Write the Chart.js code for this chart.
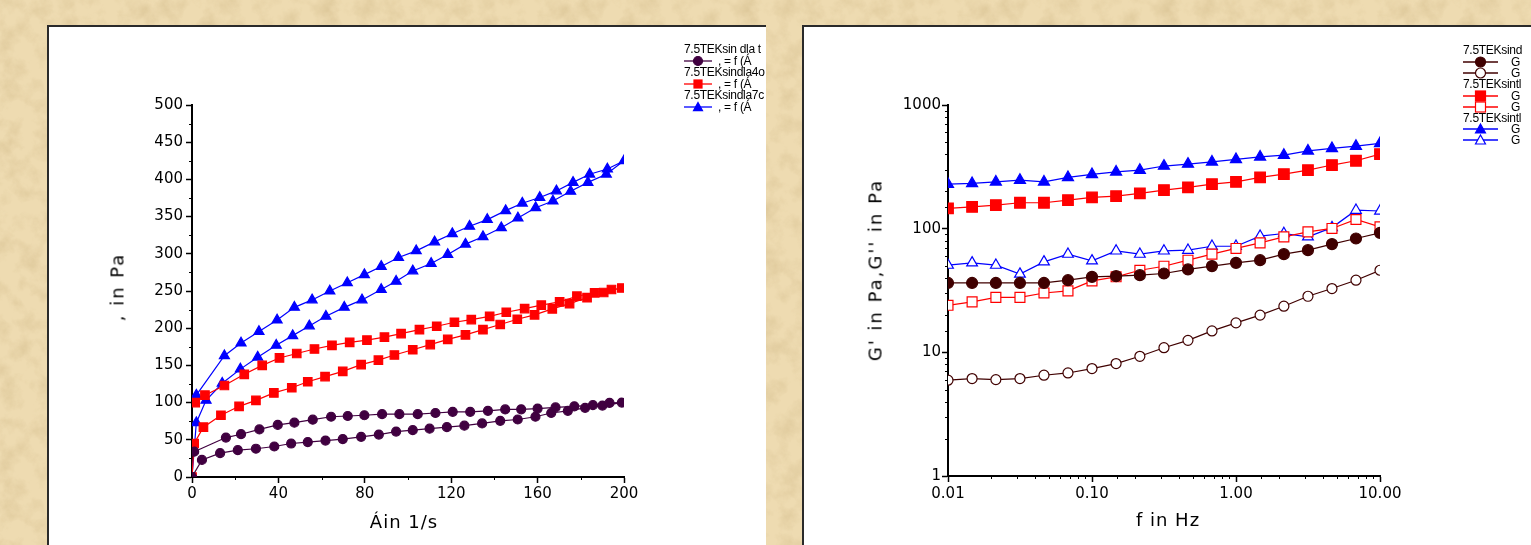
<!DOCTYPE html>
<html><head><meta charset="utf-8">
<script src="https://cdn.jsdelivr.net/npm/chart.js@4.4.0/dist/chart.umd.min.js"></script>
<style>
html,body{margin:0;padding:0;}
body{width:1531px;height:545px;overflow:hidden;position:relative;background-color:#eedbb1;font-family:'DejaVu Sans',sans-serif;}
.panel{position:absolute;background:#fff;box-sizing:border-box;border-top:2px solid #2a2a2a;border-left:2px solid #2a2a2a;overflow:hidden;}
#p1{left:47px;top:25px;width:719px;height:520px;}
#p2{left:802px;top:25px;width:729px;height:520px;}
.panel canvas{position:absolute;left:0;top:0;}
.t{position:absolute;white-space:nowrap;color:#000;}
.ytitle{font-size:18px;letter-spacing:2px;transform:translate(-50%,-50%) rotate(-90deg);}
.xtitle{font-size:18px;letter-spacing:1px;transform:translate(-50%,-50%);}
.leg{font-family:'Liberation Sans',Arial,sans-serif;font-size:12px;line-height:12px;letter-spacing:-0.3px;}
</style>
</head><body>
<div class="panel" id="p1"><canvas id="c1" width="717" height="518"></canvas></div>
<div class="panel" id="p2"><canvas id="c2" width="727" height="518"></canvas></div>
<script>
// ---------- Left chart: flow curves (shear stress vs shear rate) ----------
const leftXLabels = [0, 40, 80, 120, 160, 200];
const leftYLabels = [0, 50, 100, 150, 200, 250, 300, 350, 400, 450, 500];
const leftXTitle = 'Áin 1/s';
const leftYTitle = ', in Pa';
const leftLegendHeads = ['7.5TEKsin dla t', '7.5TEKsindla4o', '7.5TEKsindla7c'];
const leftLegendLabel = ',  = f (Á';

const purpleUpX = [0, 4.6, 13, 21.2, 29.6, 38.1, 45.9, 53.6, 61.8, 69.8, 78.3, 86.5, 94.5, 102.2, 110, 118, 126.1, 134.3, 142.7, 150.8, 159, 166.3, 174, 182, 190, 199];
const purpleUpY = [0, 23, 32, 36, 38, 41, 45, 47, 49, 51, 54, 57, 61, 63, 65, 67, 69, 72, 75.5, 77.3, 81, 86, 89, 93, 96, 100];
const purpleDownX = [193.3, 185.6, 177, 168.3, 160, 152.4, 145, 137, 128.8, 120.7, 112.7, 104.5, 96, 88, 79.8, 72.1, 64.4, 55.9, 47.4, 39.7, 31.2, 22.7, 15.7, 1];
const purpleDownY = [99.5, 96.6, 95, 93.5, 92, 91, 90.8, 89, 87.6, 87.6, 86, 84.5, 84.5, 84.5, 83, 82, 81, 77, 73, 70, 64, 57.5, 53, 34];

const redUpX = [0, 1, 5.3, 13.4, 21.8, 29.6, 37.9, 46.2, 53.6, 61.6, 69.8, 78.3, 86.3, 93.7, 102.2, 110.3, 118.4, 126.6, 134.7, 142.7, 150.6, 158.6, 166.8, 174.8, 182.9, 190.6, 199];
const redUpY = [0, 45, 67, 83, 95, 103, 113, 120, 128, 135, 142, 151, 157, 164, 171, 178, 185, 191, 198, 205, 212, 218, 226, 233, 241, 248, 254];
const redDownX = [194.2, 186.4, 178.2, 170.2, 161.7, 154, 145.5, 137.8, 129.3, 121.5, 113.3, 105.3, 96.8, 89.1, 81, 73, 64.8, 56.7, 48.5, 40.5, 32.5, 24.2, 15, 6, 1.5];
const redDownY = [252, 247.6, 243, 235.4, 231, 226.4, 221.4, 216, 211.6, 208, 202.6, 198, 192.7, 188, 184, 181, 177, 172, 166, 160, 150, 138, 123, 110, 100];

const blueUpX = [0, 2, 6.5, 14, 22.4, 30.4, 39, 46.6, 54.3, 62, 70.5, 78.7, 87.6, 94.5, 102.2, 110.7, 118.4, 126.6, 134.7, 143.2, 150.9, 159.1, 167.1, 175.3, 183.3, 191.8, 200];
const blueUpY = [0, 73, 103, 126, 145, 161, 177, 190, 203, 216, 228, 238, 252, 263, 277, 287, 299, 313, 323, 335, 348, 362, 371, 384, 396, 407, 425];
const blueDownX = [192.3, 184.1, 176.4, 168.7, 161, 152.9, 145.2, 136.7, 128.5, 120.5, 112.3, 103.8, 95.6, 87.6, 79.8, 71.9, 63.8, 55.6, 47.4, 39.4, 31, 22.7, 15, 2];
const blueDownY = [414, 407, 396, 384.5, 375.6, 368, 358, 346, 337, 327, 316, 304, 295, 283, 272, 261, 250, 238, 228, 211, 195.5, 180, 163, 110];

// ---------- Right chart: frequency sweep (G', G'') ----------
const rightXTickValues = [0.01, 0.1, 1, 10];
const rightXTickLabels = ['0.01', '0.10', '1.00', '10.00'];
const rightYTickValues = [1, 10, 100, 1000];
const rightYTickLabels = ['1', '10', '100', '1000'];
const rightXTitle = 'f in Hz';
const rightYTitle = "G' in Pa,G'' in Pa";
const rightLegendHeads = ['7.5TEKsind', '7.5TEKsintl', '7.5TEKsintl'];
const rightLegendLabels = ['G', 'G'];

const freq = [0.01, 0.0147, 0.0215, 0.0316, 0.0464, 0.0681, 0.1, 0.147, 0.215, 0.316, 0.464, 0.681, 1, 1.47, 2.15, 3.16, 4.64, 6.81, 10];
const brownGp  = [36.4, 36.4, 36.4, 36.4, 36.4, 38.3, 40.8, 41.3, 42.1, 43.4, 46.8, 49.8, 52.9, 55.6, 62.2, 67, 75, 83.3, 92.5];
const brownGpp = [5.95, 6.14, 6.02, 6.14, 6.53, 6.81, 7.39, 8.11, 9.29, 10.9, 12.5, 14.9, 17.3, 20.0, 23.6, 28.4, 32.8, 38.3, 46.1];
const redGp    = [146, 150, 155, 162, 162, 170, 179, 183, 193, 205, 216, 229, 239, 260, 276, 297, 327, 354, 401];
const redGpp   = [24.0, 25.6, 27.8, 27.8, 30.2, 31.4, 37.8, 40.8, 46.1, 49.7, 55.6, 62.2, 69.2, 76.8, 85.9, 94.2, 100.4, 118.6, 103.5];
const blueGp   = [229, 232, 239, 247, 239, 260, 275, 288, 297, 321, 333, 347, 363, 381, 393, 426, 446, 465, 489];
const blueGpp  = [50.7, 52.9, 50.7, 42.9, 53.9, 62.2, 54.9, 66.1, 62.2, 66.1, 67, 72.1, 72.1, 87, 91.4, 85.9, 102, 141, 139];

// ---------- helpers ----------
const PURPLE = '#400040', RED = '#ff0000', BLUE = '#0000ff', BROWN = '#400000';
const pts = (xs, ys) => xs.map((x, i) => ({x, y: ys[i]}));
const tickFont = {family: 'DejaVu Sans', size: 15};

const minorTicks = {
  id: 'minorTicks',
  afterDraw(chart) {
    const ctx = chart.ctx;
    ctx.save();
    ctx.strokeStyle = '#000';
    ctx.lineWidth = 1;
    ['x', 'y'].forEach(id => {
      const s = chart.scales[id];
      s.ticks.forEach(t => {
        if (t.label !== '') return;
        const p = Math.round(s.getPixelForValue(t.value)) + 0.5;
        ctx.beginPath();
        if (id === 'x') { ctx.moveTo(p, s.top); ctx.lineTo(p, s.top + 3); }
        else { ctx.moveTo(s.right, p); ctx.lineTo(s.right - 3, p); }
        ctx.stroke();
      });
    });
    ctx.restore();
  }
};

function axisCommon(extra) {
  return Object.assign({
    border: {display: true, color: '#000', width: 2},
    grid: {
      drawOnChartArea: false, drawTicks: true, tickLength: 6, tickWidth: 1.5,
      tickColor: c => (c.tick && c.tick.label !== '') ? '#000' : 'rgba(0,0,0,0)'
    }
  }, extra);
}

function ds(data, color, style, radius, fill) {
  return {
    data, showLine: true, borderColor: color, borderWidth: 1.2,
    pointStyle: style, pointRadius: radius, pointHoverRadius: radius,
    pointBackgroundColor: fill, pointBorderColor: color, pointBorderWidth: 1.2
  };
}

// ---------- left chart ----------
new Chart(document.getElementById('c1'), {
  type: 'scatter',
  data: {
    datasets: [
      ds(pts(purpleUpX.concat(purpleDownX), purpleUpY.concat(purpleDownY)), PURPLE, 'circle', 4.5, PURPLE),
      ds(pts(redUpX.concat(redDownX), redUpY.concat(redDownY)), RED, 'rect', 6, RED),
      ds(pts(blueUpX.concat(blueDownX), blueUpY.concat(blueDownY)), BLUE, 'triangle', 5.8, BLUE)
    ]
  },
  options: {
    responsive: false, animation: false, devicePixelRatio: 1,
    layout: {padding: {top: 78, right: 142, bottom: 0, left: 0}},
    plugins: {legend: {display: false}, tooltip: {enabled: false}},
    scales: {
      x: axisCommon({
        type: 'linear', min: 0, max: 200,
        afterFit: s => { s.height = 68; },
        ticks: {stepSize: 20, autoSkip: false, maxRotation: 0, padding: 2, color: '#000', font: tickFont,
          callback: v => leftXLabels.includes(v) ? String(v) : ''}
      }),
      y: axisCommon({
        type: 'linear', min: 0, max: 500,
        afterFit: s => { s.width = 143; },
        ticks: {stepSize: 25, autoSkip: false, padding: 3, color: '#000', font: tickFont,
          callback: v => leftYLabels.includes(v) ? String(v) : ''}
      })
    }
  },
  plugins: [minorTicks]
});

// ---------- right chart ----------
const findLabel = (vals, labels, v) => {
  const i = vals.findIndex(t => Math.abs(t - v) / t < 1e-6);
  return i >= 0 ? labels[i] : '';
};
new Chart(document.getElementById('c2'), {
  type: 'scatter',
  data: {
    datasets: [
      ds(pts(freq, brownGpp), BROWN, 'circle', 5, '#ffffff'),
      ds(pts(freq, brownGp), BROWN, 'circle', 5.5, BROWN),
      ds(pts(freq, redGpp), RED, 'rect', 7, '#ffffff'),
      ds(pts(freq, redGp), RED, 'rect', 7.5, RED),
      ds(pts(freq, blueGpp), BLUE, 'triangle', 6.2, '#ffffff'),
      ds(pts(freq, blueGp), BLUE, 'triangle', 6.4, BLUE)
    ]
  },
  options: {
    responsive: false, animation: false, devicePixelRatio: 1,
    layout: {padding: {top: 78, right: 151, bottom: 0, left: 0}},
    plugins: {legend: {display: false}, tooltip: {enabled: false}},
    scales: {
      x: axisCommon({
        type: 'logarithmic', min: 0.01, max: 10,
        afterFit: s => { s.height = 69; },
        ticks: {autoSkip: false, maxRotation: 0, padding: 3, color: '#000', font: tickFont,
          callback: v => findLabel(rightXTickValues, rightXTickLabels, v)}
      }),
      y: axisCommon({
        type: 'logarithmic', min: 1, max: 1000,
        afterFit: s => { s.width = 144; },
        ticks: {autoSkip: false, padding: 1, color: '#000', font: tickFont,
          callback: v => findLabel(rightYTickValues, rightYTickLabels, v)}
      })
    }
  },
  plugins: [minorTicks]
});

// ---------- overlay text (axis titles, legends) ----------
function addText(panel, cls, text, x, y, extraStyle) {
  const d = document.createElement('div');
  d.className = 't ' + cls;
  d.textContent = text;
  d.style.left = x + 'px';
  d.style.top = y + 'px';
  if (extraStyle) Object.assign(d.style, extraStyle);
  document.getElementById(panel).appendChild(d);
  return d;
}
function marker(panel, x, cy, w, color, style, filled, size) {
  const ns = 'http://www.w3.org/2000/svg';
  const svg = document.createElementNS(ns, 'svg');
  svg.setAttribute('width', w); svg.setAttribute('height', 14);
  svg.style.position = 'absolute'; svg.style.left = x + 'px'; svg.style.top = (cy - 7) + 'px';
  const line = document.createElementNS(ns, 'line');
  line.setAttribute('x1', 0); line.setAttribute('x2', w); line.setAttribute('y1', 7); line.setAttribute('y2', 7);
  line.setAttribute('stroke', color); line.setAttribute('stroke-width', 1.3);
  svg.appendChild(line);
  let m;
  const c = w / 2, h = size / 2;
  if (style === 'circle') { m = document.createElementNS(ns, 'circle'); m.setAttribute('cx', c); m.setAttribute('cy', 7); m.setAttribute('r', h); }
  else if (style === 'rect') { m = document.createElementNS(ns, 'rect'); m.setAttribute('x', c - h); m.setAttribute('y', 7 - h); m.setAttribute('width', size); m.setAttribute('height', size); }
  else { m = document.createElementNS(ns, 'polygon'); m.setAttribute('points', `${c},${7 - h} ${c + h},${7 + h * 0.8} ${c - h},${7 + h * 0.8}`); }
  m.setAttribute('fill', filled ? color : '#fff'); m.setAttribute('stroke', color); m.setAttribute('stroke-width', 1.2);
  svg.appendChild(m);
  document.getElementById(panel).appendChild(svg);
}

// left panel inner origin (49,27)
addText('p1', 'ytitle', leftYTitle, 117 - 49, 287 - 27);
addText('p1', 'xtitle', leftXTitle, 404 - 49, 521 - 27);
const leftRows = [22, 34, 45, 57, 68, 80];
const leftStyles = [[PURPLE, 'circle', 9], [RED, 'rect', 8], [BLUE, 'triangle', 9]];
leftLegendHeads.forEach((h, i) => {
  addText('p1', 'leg', h, 635, leftRows[2 * i] - 6);
  const [col, st, sz] = leftStyles[i];
  marker('p1', 635, leftRows[2 * i + 1], 28, col, st, true, sz);
  addText('p1', 'leg', leftLegendLabel, 669, leftRows[2 * i + 1] - 6);
});

// right panel inner origin (804,27)
addText('p2', 'ytitle', rightYTitle, 875 - 804, 270 - 27);
addText('p2', 'xtitle', rightXTitle, 1168 - 804, 519 - 27);
const rightRows = [23, 35, 46, 57, 69, 80, 91, 102, 113];
const rightStyles = [[BROWN, 'circle', 10], [RED, 'rect', 10], [BLUE, 'triangle', 10]];
rightLegendHeads.forEach((h, i) => {
  addText('p2', 'leg', h, 659, rightRows[3 * i] - 6);
  const [col, st, sz] = rightStyles[i];
  marker('p2', 659, rightRows[3 * i + 1], 35, col, st, true, sz);
  addText('p2', 'leg', rightLegendLabels[0], 707, rightRows[3 * i + 1] - 6);
  marker('p2', 659, rightRows[3 * i + 2], 35, col, st, false, sz);
  addText('p2', 'leg', rightLegendLabels[1], 707, rightRows[3 * i + 2] - 6);
});

// parchment texture background
const svgTex = "<svg xmlns='http://www.w3.org/2000/svg' width='420' height='420'>" +
  "<filter id='f' x='0' y='0' width='100%' height='100%'>" +
  "<feTurbulence type='fractalNoise' baseFrequency='0.05' numOctaves='4' seed='7' stitchTiles='stitch'/>" +
  "<feColorMatrix type='matrix' values='0 0 0 0 0.70  0 0 0 0 0.55  0 0 0 0 0.30  1.5 0 0 0 -0.62'/>" +
  "</filter><rect width='420' height='420' filter='url(#f)'/></svg>";
document.body.style.backgroundImage = 'url("data:image/svg+xml,' + encodeURIComponent(svgTex) + '")';
</script>
</body></html>
